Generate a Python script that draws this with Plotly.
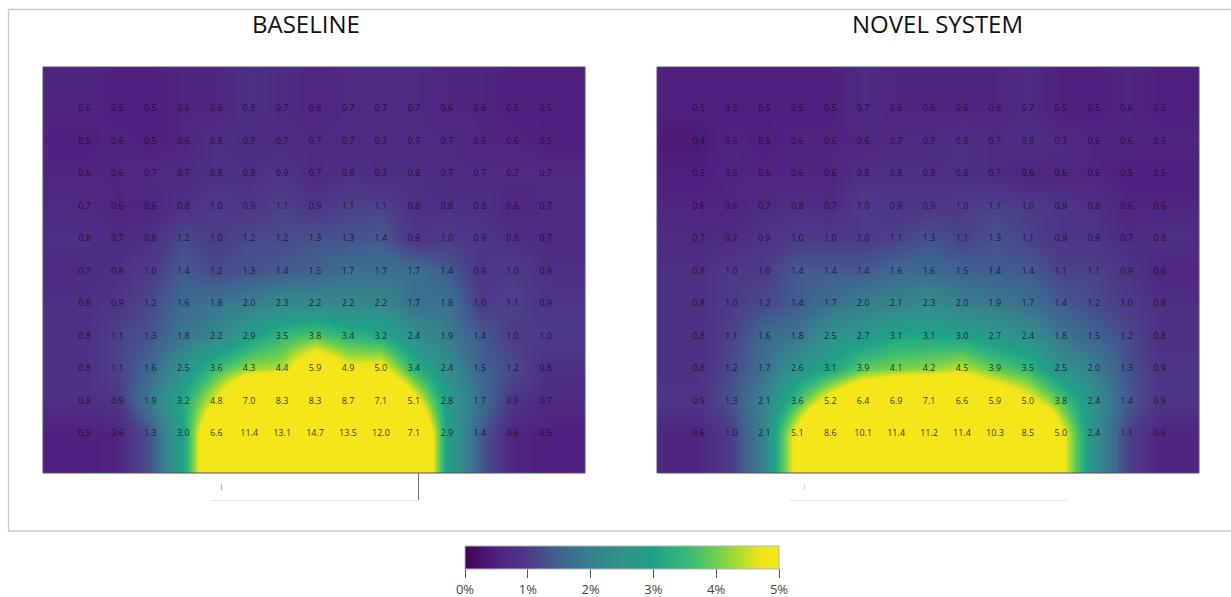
import plotly.graph_objects as go
import numpy as np

W, H = 1231, 597

baseline = [
    [0.6, 0.5, 0.5, 0.6, 0.6, 0.8, 0.7, 0.6, 0.7, 0.7, 0.7, 0.6, 0.6, 0.5, 0.5],
    [0.5, 0.6, 0.5, 0.6, 0.8, 0.7, 0.7, 0.7, 0.7, 0.7, 0.7, 0.7, 0.6, 0.6, 0.5],
    [0.6, 0.6, 0.7, 0.7, 0.8, 0.8, 0.9, 0.7, 0.8, 0.7, 0.8, 0.7, 0.7, 0.7, 0.7],
    [0.7, 0.6, 0.6, 0.8, 1.0, 0.9, 1.1, 0.9, 1.1, 1.1, 0.8, 0.8, 0.8, 0.6, 0.7],
    [0.8, 0.7, 0.8, 1.2, 1.0, 1.2, 1.2, 1.3, 1.3, 1.4, 0.9, 1.0, 0.9, 0.8, 0.7],
    [0.7, 0.8, 1.0, 1.4, 1.2, 1.3, 1.4, 1.5, 1.7, 1.7, 1.7, 1.4, 0.9, 1.0, 0.8],
    [0.8, 0.9, 1.2, 1.6, 1.8, 2.0, 2.3, 2.2, 2.2, 2.2, 1.7, 1.8, 1.0, 1.1, 0.9],
    [0.8, 1.1, 1.3, 1.8, 2.2, 2.9, 3.5, 3.8, 3.4, 3.2, 2.4, 1.9, 1.4, 1.0, 1.0],
    [0.8, 1.1, 1.6, 2.5, 3.6, 4.3, 4.4, 5.9, 4.9, 5.0, 3.4, 2.4, 1.5, 1.2, 0.8],
    [0.8, 0.9, 1.9, 3.2, 4.8, 7.0, 8.3, 8.3, 8.7, 7.1, 5.1, 2.8, 1.7, 0.9, 0.7],
    [0.5, 0.6, 1.3, 3.0, 6.6, 11.4, 13.1, 14.7, 13.5, 12.0, 7.1, 2.9, 1.4, 0.6, 0.5],
]
novel = [
    [0.5, 0.5, 0.5, 0.5, 0.5, 0.7, 0.6, 0.6, 0.6, 0.6, 0.7, 0.5, 0.5, 0.6, 0.5],
    [0.4, 0.6, 0.5, 0.6, 0.6, 0.6, 0.7, 0.7, 0.8, 0.7, 0.8, 0.7, 0.6, 0.6, 0.6],
    [0.5, 0.6, 0.6, 0.6, 0.6, 0.8, 0.8, 0.8, 0.8, 0.7, 0.6, 0.6, 0.6, 0.5, 0.5],
    [0.6, 0.6, 0.7, 0.8, 0.7, 1.0, 0.9, 0.9, 1.0, 1.1, 1.0, 0.9, 0.8, 0.6, 0.6],
    [0.7, 0.7, 0.9, 1.0, 1.0, 1.0, 1.1, 1.3, 1.1, 1.3, 1.1, 0.9, 0.9, 0.7, 0.8],
    [0.8, 1.0, 1.0, 1.4, 1.4, 1.4, 1.6, 1.6, 1.5, 1.4, 1.4, 1.1, 1.1, 0.9, 0.6],
    [0.8, 1.0, 1.2, 1.4, 1.7, 2.0, 2.1, 2.3, 2.0, 1.9, 1.7, 1.4, 1.2, 1.0, 0.8],
    [0.8, 1.1, 1.6, 1.8, 2.5, 2.7, 3.1, 3.1, 3.0, 2.7, 2.4, 1.8, 1.5, 1.2, 0.8],
    [0.8, 1.2, 1.7, 2.6, 3.1, 3.9, 4.1, 4.2, 4.5, 3.9, 3.5, 2.5, 2.0, 1.3, 0.9],
    [0.9, 1.3, 2.1, 3.6, 5.2, 6.4, 6.9, 7.1, 6.6, 5.9, 5.0, 3.8, 2.4, 1.4, 0.9],
    [0.6, 1.0, 2.1, 5.1, 8.6, 10.1, 11.4, 11.2, 11.4, 10.3, 8.5, 5.0, 2.4, 1.1, 0.6],
]
titles = ["BASELINE", "NOVEL SYSTEM"]
legend_ticks = [0, 1, 2, 3, 4, 5]
legend_labels = ["0%", "1%", "2%", "3%", "4%", "5%"]

FONT = "Open Sans"
COLORSCALE = [
    [0.00, "#440154"], [0.10, "#4f2080"], [0.20, "#4d3a88"], [0.30, "#3f6490"],
    [0.40, "#36808e"], [0.50, "#2f938a"], [0.60, "#1fa187"], [0.70, "#35b779"],
    [0.80, "#6ccf4f"], [0.88, "#b5de2b"], [0.94, "#eee51c"], [1.00, "#f5e61a"],
]
px = lambda v: v / W
py = lambda v: 1 - v / H

panels = [(43, 585, baseline, "x", "y", "xaxis", "yaxis"),
          (657, 1199, novel, "x2", "y2", "xaxis2", "yaxis2")]

fig = go.Figure()
layout = {}
for (left, right, grid, xa, ya, xn, yn) in panels:
    arr = np.array(grid)
    nrows, ncols = arr.shape
    # one ring of edge values lets the smoothed field run out to the frame
    padded = np.pad(arr, 1, mode="edge")
    fig.add_trace(go.Heatmap(
        z=padded, x=list(range(ncols + 2)), y=list(range(nrows + 2)),
        coloraxis="coloraxis", zsmooth="best", xaxis=xa, yaxis=ya,
        hoverinfo="skip", showscale=False))
    xs, ys, labels = [], [], []
    for r in range(nrows):
        for c in range(ncols):
            xs.append(c + 1)
            ys.append(r + 1)
            labels.append(f"{arr[r, c]:.1f}")
    fig.add_trace(go.Scatter(
        x=xs, y=ys, text=labels, mode="text", xaxis=xa, yaxis=ya,
        textposition="middle center", showlegend=False, hoverinfo="skip",
        textfont=dict(family=FONT, size=9, color="rgba(15,15,25,0.85)")))
    layout[xn] = dict(domain=[px(left), px(right)], range=[-0.26, 16.195],
                      visible=False, fixedrange=True)
    layout[yn] = dict(domain=[py(473), py(67)], range=[12.2, -0.29],
                      visible=False, fixedrange=True)

shapes = [
    dict(type="rect", xref="paper", yref="paper", x0=px(8.5), x1=px(1240), y0=py(531), y1=py(9.5),
         line=dict(color="#c9c9c9", width=1.3), fillcolor="white", layer="below"),
    dict(type="rect", xref="paper", yref="paper", x0=px(43), x1=px(585), y0=py(473), y1=py(67),
         line=dict(color="#55505f", width=1), layer="above"),
    dict(type="rect", xref="paper", yref="paper", x0=px(657), x1=px(1199), y0=py(473), y1=py(67),
         line=dict(color="#55505f", width=1), layer="above"),
    dict(type="line", xref="paper", yref="paper", x0=px(418.5), x1=px(418.5), y0=py(473), y1=py(500),
         line=dict(color="#707070", width=1)),
    dict(type="line", xref="paper", yref="paper", x0=px(211), x1=px(418), y0=py(500.5), y1=py(500.5),
         line=dict(color="#e6e6e6", width=1)),
    dict(type="line", xref="paper", yref="paper", x0=px(790), x1=px(1068), y0=py(500.5), y1=py(500.5),
         line=dict(color="#e6e6e6", width=1)),
    dict(type="line", xref="paper", yref="paper", x0=px(221.5), x1=px(221.5), y0=py(484), y1=py(490),
         line=dict(color="#b5b5b5", width=1)),
    dict(type="line", xref="paper", yref="paper", x0=px(804.5), x1=px(804.5), y0=py(484), y1=py(490),
         line=dict(color="#d5d5d5", width=1)),
]
annotations = [
    dict(text=titles[0], x=px(306), y=py(23), xref="paper", yref="paper", showarrow=False,
         xanchor="center", yanchor="middle", font=dict(family=FONT, size=24, color="#111111")),
    dict(text=titles[1], x=px(937), y=py(23), xref="paper", yref="paper", showarrow=False,
         xanchor="center", yanchor="middle", font=dict(family=FONT, size=24, color="#111111")),
]

fig.update_layout(
    width=W, height=H,
    margin=dict(l=0, r=0, t=0, b=0, autoexpand=False),
    paper_bgcolor="white", plot_bgcolor="white",
    showlegend=False, shapes=shapes, annotations=annotations,
    coloraxis=dict(
        cmin=0, cmax=5, colorscale=COLORSCALE,
        colorbar=dict(
            orientation="h", lenmode="pixels", len=314, thicknessmode="pixels", thickness=23,
            x=px(622), xanchor="center", y=py(546), yanchor="top",
            xpad=0, ypad=0, outlinecolor="#b5b5b5", outlinewidth=1,
            tickmode="array", tickvals=legend_ticks, ticktext=legend_labels,
            ticks="outside", ticklen=9, tickcolor="#555555", tickwidth=1,
            tickfont=dict(family=FONT, size=13, color="#444444"),
        ),
    ),
    **layout,
)

fig.write_html("out.html", post_script="document.body.style.margin='0';",
               config={"displayModeBar": False})
